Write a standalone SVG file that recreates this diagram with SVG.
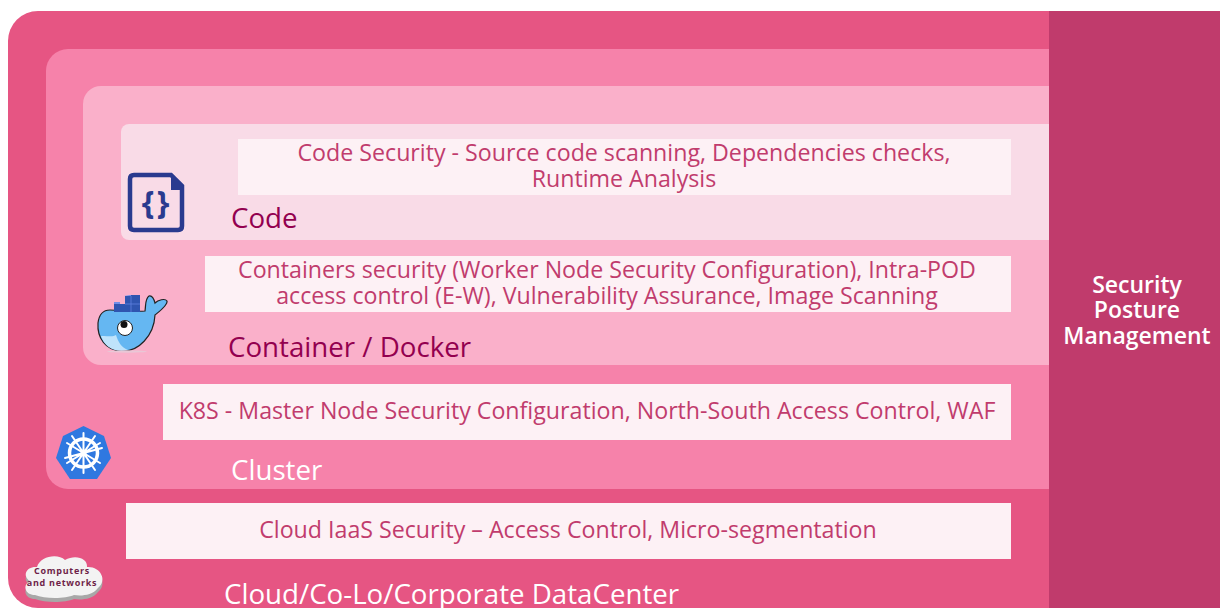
<svg xmlns="http://www.w3.org/2000/svg" width="1220" height="608" viewBox="0 0 1220 608">
<style>
text{font-family:"Open Sans","Noto Sans","Liberation Sans",sans-serif}
.d{font-size:23.2px;fill:#c13c6d;text-anchor:middle}
.box{fill:#fdf1f5}
.lp{font-size:27.7px;fill:#93004f}
.lw{font-size:27.7px;fill:#fff}
</style>
<rect width="1220" height="608" fill="#fff"/>
<g id="cloud-layer"><path d="M1220 11H38a30 30 0 0 0-30 30V578a30 30 0 0 0 30 30H1220z" fill="#e65583"/>
<rect class="box" x="126" y="503" width="885" height="56"/>
<text class="d" x="568" y="538">Cloud IaaS Security – Access Control, Micro-segmentation</text>
<text class="lw" x="224" y="604">Cloud/Co-Lo/Corporate DataCenter</text></g>
<g id="cluster-layer"><path d="M1050 49H68a22 22 0 0 0-22 22V467a22 22 0 0 0 22 22H1050z" fill="#f682aa"/>
<rect class="box" x="163" y="384" width="848" height="56"/>
<text class="d" x="587" y="419">K8S - Master Node Security Configuration, North-South Access Control, WAF</text>
<text class="lw" x="231" y="480">Cluster</text></g>
<g id="container-layer"><path d="M1050 86H101a18 18 0 0 0-18 18V347a18 18 0 0 0 18 18H1050z" fill="#fab0ca"/>
<rect class="box" x="205" y="256" width="806" height="56"/>
<text class="d" x="607" y="278">Containers security (Worker Node Security Configuration), Intra-POD</text>
<text class="d" x="607" y="304">access control (E-W), Vulnerability Assurance, Image Scanning</text>
<text class="lp" x="228" y="357">Container / Docker</text></g>
<g id="code-layer"><path d="M1050 124H129a8 8 0 0 0-8 8V232a8 8 0 0 0 8 8H1050z" fill="#f9dbe7"/>
<rect class="box" x="238" y="139" width="773" height="56"/>
<text class="d" x="624" y="161">Code Security - Source code scanning, Dependencies checks,</text>
<text class="d" x="624" y="187">Runtime Analysis</text>
<text class="lp" x="231" y="228">Code</text></g>
<g id="posture"><rect x="1049" y="11" width="171" height="597" fill="#c03b6c"/>
<g font-size="23" font-weight="600" fill="#fff" text-anchor="middle"><text x="1137" y="293">Security</text><text x="1137" y="318">Posture</text><text x="1137" y="344">Management</text></g></g>
<g id="code-icon"><path d="M134 175H171L182 186V226Q182 230 178 230H134Q130 230 130 226V179Q130 175 134 175Z" fill="none" stroke="#2a3a8f" stroke-width="4.500"/>
<path d="M171 173L184 186V190H171Z" fill="#2a3a8f"/>
<g font-size="32" font-weight="700" fill="#2a3a8f" text-anchor="middle" font-family="Liberation Sans,sans-serif"><text x="148" y="214">{</text><text x="163" y="214">}</text></g></g>
<g id="docker-icon">
<path d="M145 311C146 304 145 299 149 296C152 295 154 299 155 303C158 300 165 298 167 301C168 305 160 311 155 315C154 336 138 352 122 351C105 351 97 337 98 323C99 315 103 310 110 310C120 310 135 312 145 311Z" fill="#65b7f2" stroke="#222" stroke-width="1.200"/>
<path d="M114 304h11v-8h6v-1h9v17h-26z" fill="#2f55b0"/>
<path d="M124 296h7v-1h-1zM114 304h6v-2h-6z" fill="#6f8ee8"/>
<path d="M125 304h15M131 296v16" stroke="#5f80e0" stroke-width=".8" fill="none"/>
<path d="M101 336C110 336 113 337 116 335C118 342 122 348 128 350C114 353 105 347 101 336Z" fill="#bfe3fb"/>
<circle cx="125" cy="328" r="7.500" fill="#fff" stroke="#222" stroke-width="1"/><circle cx="124" cy="324.500" r="3.500" fill="#111"/>
<ellipse cx="127" cy="351.500" rx="20" ry="1.200" fill="#e9c7d6"/>
</g>
<g id="k8s-icon"><polygon points="83.500,426 104,436 111,458 97,479 70,479 56,458 63,436" fill="#2f78e0"/>
<g fill="none" stroke="#fff" stroke-linecap="round"><circle cx="83.500" cy="453" r="14" stroke-width="3.500"/>
<path stroke-width="2" d="M83.500 433V473M67 443L100 463M100 443L67 463M65 458L102 448M72 470L95 436M95 470L72 436"/></g><circle cx="83.500" cy="453" r="3" fill="#fff"/></g>
<g id="cloud-icon"><path d="M35 597C25 597 22 587 30 583C22 578 26 568 37 569C40 558 58 555 65 562C75 556 88 560 87 569C100 568 108 582 98 590C92 598 80 598 74 597C65 601 45 601 35 597Z" fill="#a8a8a8" transform="translate(0 2)"/>
<path d="M35 595C25 595 22 585 30 581C22 576 26 566 37 567C40 556 58 553 65 560C75 554 88 558 87 567C100 566 108 580 98 588C92 596 80 596 74 595C65 599 45 599 35 595Z" fill="#f3f3f3"/>
<g font-size="9" font-weight="700" fill="#6e1f49" text-anchor="middle" letter-spacing=".7" font-family="DejaVu Sans,sans-serif"><text x="62" y="574">Computers</text><text x="62" y="586">and networks</text></g></g>
</svg>
